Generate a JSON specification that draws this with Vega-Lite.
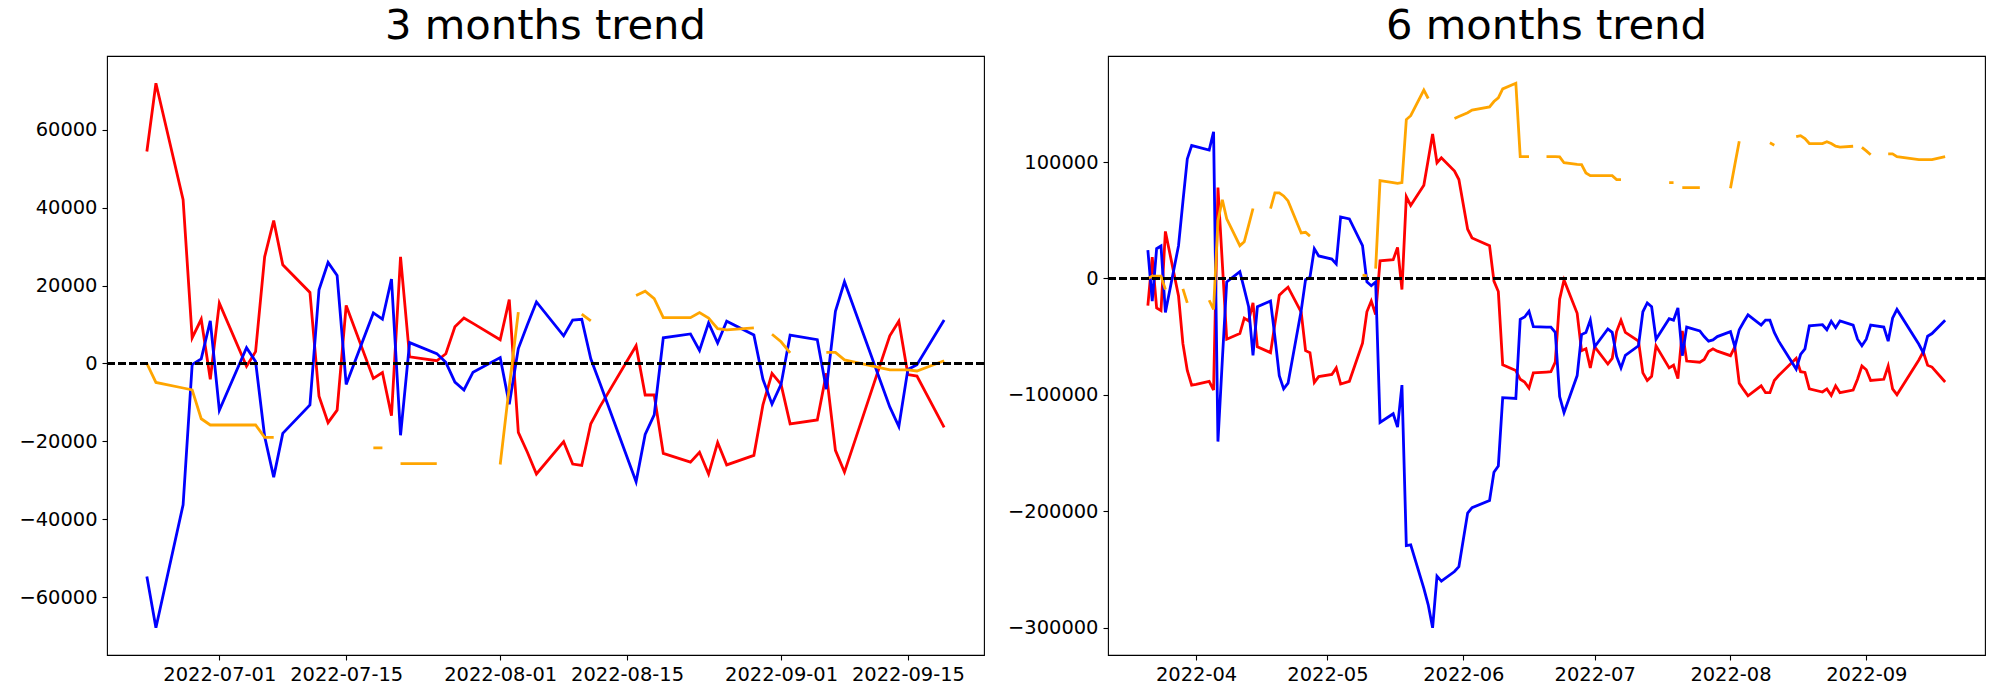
{
 "$schema": "https://vega.github.io/schema/vega-lite/v6.json",
 "padding": {"left": 18, "top": 5, "right": 5, "bottom": 5},
 "background": "white",
 "config": {
  "font": "DejaVu Sans",
  "view": {"stroke": "black", "strokeWidth": 1.1},
  "axis": {"grid": false, "domain": false, "tickColor": "black", "tickSize": 5, "tickWidth": 1.1, "labelFont": "DejaVu Sans", "labelFontSize": 19.44, "labelColor": "black", "labelPadding": 5},
  "title": {"font": "DejaVu Sans", "fontSize": 41.67, "fontWeight": "normal", "color": "black", "anchor": "middle", "frame": "group", "offset": 8, "baseline": "alphabetic"},
  "concat": {"spacing": 20}
 },
 "datasets": {
  "m3": [
   {"date": "2022-06-23", "A": 54450, "B": -54750, "C": 0},
   {"date": "2022-06-24", "A": 72000, "B": -67900, "C": -4870},
   {"date": "2022-06-27", "A": 42100, "B": -36300, "C": -6300},
   {"date": "2022-06-28", "A": 6600, "B": -300, "C": -6800},
   {"date": "2022-06-29", "A": 11360, "B": 1200, "C": -14200},
   {"date": "2022-06-30", "A": -4060, "B": 10950, "C": -15800},
   {"date": "2022-07-01", "A": 15500, "B": -12000, "C": -15800},
   {"date": "2022-07-04", "A": -700, "B": 4060, "C": -15800},
   {"date": "2022-07-05", "A": 3040, "B": 500, "C": -15800},
   {"date": "2022-07-06", "A": 27400, "B": -18760, "C": -19000},
   {"date": "2022-07-07", "A": 36700, "B": -29200, "C": -19000},
   {"date": "2022-07-08", "A": 25350, "B": -17950, "C": null},
   {"date": "2022-07-11", "A": 18250, "B": -10650, "C": null},
   {"date": "2022-07-12", "A": -8400, "B": 18960, "C": null},
   {"date": "2022-07-13", "A": -15200, "B": 25960, "C": null},
   {"date": "2022-07-14", "A": -12000, "B": 22600, "C": null},
   {"date": "2022-07-15", "A": 14900, "B": -5370, "C": null},
   {"date": "2022-07-18", "A": -3850, "B": 12980, "C": -21700},
   {"date": "2022-07-19", "A": -2330, "B": 11360, "C": -21700},
   {"date": "2022-07-20", "A": -13400, "B": 21700, "C": null},
   {"date": "2022-07-21", "A": 27400, "B": -18450, "C": -25750},
   {"date": "2022-07-22", "A": 1700, "B": 5370, "C": -25750},
   {"date": "2022-07-25", "A": 700, "B": 2540, "C": -25750},
   {"date": "2022-07-26", "A": 2500, "B": 300, "C": null},
   {"date": "2022-07-27", "A": 9430, "B": -4770, "C": null},
   {"date": "2022-07-28", "A": 11660, "B": -6800, "C": null},
   {"date": "2022-07-29", "A": 10300, "B": -2230, "C": null},
   {"date": "2022-08-01", "A": 6100, "B": 1520, "C": -25950},
   {"date": "2022-08-02", "A": 16400, "B": -10450, "C": -6000},
   {"date": "2022-08-03", "A": -17700, "B": 3850, "C": 13200},
   {"date": "2022-08-04", "A": -22800, "B": 9940, "C": null},
   {"date": "2022-08-05", "A": -28400, "B": 15800, "C": null},
   {"date": "2022-08-08", "A": -20100, "B": 7100, "C": null},
   {"date": "2022-08-09", "A": -25850, "B": 11150, "C": null},
   {"date": "2022-08-10", "A": -26200, "B": 11360, "C": 12700},
   {"date": "2022-08-11", "A": -15500, "B": 1200, "C": 10950},
   {"date": "2022-08-12", "A": -11150, "B": -5000, "C": null},
   {"date": "2022-08-16", "A": 4560, "B": -30400, "C": 17450},
   {"date": "2022-08-17", "A": -8100, "B": -18250, "C": 18560},
   {"date": "2022-08-18", "A": -8100, "B": -13200, "C": 16630},
   {"date": "2022-08-19", "A": -23100, "B": 6600, "C": 11760},
   {"date": "2022-08-22", "A": -25350, "B": 7600, "C": 11760},
   {"date": "2022-08-23", "A": -22800, "B": 3350, "C": 13080},
   {"date": "2022-08-24", "A": -28400, "B": 10450, "C": 11660},
   {"date": "2022-08-25", "A": -20300, "B": 5270, "C": 8920},
   {"date": "2022-08-26", "A": -26050, "B": 10850, "C": 8620},
   {"date": "2022-08-29", "A": -23600, "B": 7300, "C": 9130},
   {"date": "2022-08-30", "A": -10650, "B": -4060, "C": null},
   {"date": "2022-08-31", "A": -2540, "B": -10450, "C": 7500},
   {"date": "2022-09-01", "A": -5370, "B": -5370, "C": 5580},
   {"date": "2022-09-02", "A": -15500, "B": 7300, "C": 2740},
   {"date": "2022-09-05", "A": -14500, "B": 6100, "C": null},
   {"date": "2022-09-06", "A": -2540, "B": -6600, "C": 2840},
   {"date": "2022-09-07", "A": -22300, "B": 13400, "C": 2840},
   {"date": "2022-09-08", "A": -27900, "B": 21000, "C": 910},
   {"date": "2022-09-13", "A": 7100, "B": -11150, "C": -1620},
   {"date": "2022-09-14", "A": 10850, "B": -16200, "C": -1620},
   {"date": "2022-09-15", "A": -2840, "B": -1520, "C": -1620},
   {"date": "2022-09-16", "A": -3250, "B": -300, "C": -1930},
   {"date": "2022-09-19", "A": -16400, "B": 11150, "C": 710}
  ],
  "m6": [
   {"date": "2022-03-21", "A": -23300, "B": 24290, "C": 0},
   {"date": "2022-03-22", "A": 18400, "B": -19360, "C": 2000},
   {"date": "2022-03-23", "A": -25300, "B": 25600, "C": 2000},
   {"date": "2022-03-24", "A": -27600, "B": 27900, "C": 2000},
   {"date": "2022-03-25", "A": 40400, "B": -29200, "C": -9500},
   {"date": "2022-03-28", "A": -15100, "B": 28200, "C": null},
   {"date": "2022-03-29", "A": -56000, "B": 66000, "C": -8900},
   {"date": "2022-03-30", "A": -79000, "B": 102700, "C": -21000},
   {"date": "2022-03-31", "A": -91600, "B": 114200, "C": null},
   {"date": "2022-04-01", "A": -91000, "B": 113200, "C": null},
   {"date": "2022-04-04", "A": -88300, "B": 110300, "C": -18700},
   {"date": "2022-04-05", "A": -95800, "B": 126000, "C": -26600},
   {"date": "2022-04-06", "A": 78100, "B": -140100, "C": 49600},
   {"date": "2022-04-07", "A": 13100, "B": -70000, "C": 67600},
   {"date": "2022-04-08", "A": -52200, "B": -2950, "C": 51200},
   {"date": "2022-04-11", "A": -47300, "B": 5900, "C": 28200},
   {"date": "2022-04-12", "A": -34100, "B": -8860, "C": 31500},
   {"date": "2022-04-13", "A": -36400, "B": -24300, "C": 45600},
   {"date": "2022-04-14", "A": -21000, "B": -66000, "C": 60100},
   {"date": "2022-04-15", "A": -58700, "B": -24300, "C": null},
   {"date": "2022-04-18", "A": -63700, "B": -19360, "C": 60100},
   {"date": "2022-04-19", "A": -39000, "B": -50200, "C": 73500},
   {"date": "2022-04-20", "A": -14400, "B": -83400, "C": 73500},
   {"date": "2022-04-21", "A": -10800, "B": -94800, "C": 70900},
   {"date": "2022-04-22", "A": -7500, "B": -89900, "C": 66600},
   {"date": "2022-04-25", "A": -28900, "B": -27600, "C": 39100},
   {"date": "2022-04-26", "A": -62000, "B": -1000, "C": 39700},
   {"date": "2022-04-27", "A": -63700, "B": 980, "C": 36400},
   {"date": "2022-04-28", "A": -89300, "B": 25600, "C": null},
   {"date": "2022-04-29", "A": -84300, "B": 19360, "C": null},
   {"date": "2022-05-02", "A": -82400, "B": 16700, "C": null},
   {"date": "2022-05-03", "A": -76800, "B": 12470, "C": null},
   {"date": "2022-05-04", "A": -90600, "B": 52840, "C": null},
   {"date": "2022-05-06", "A": -88300, "B": 51200, "C": null},
   {"date": "2022-05-09", "A": -55500, "B": 28200, "C": 2950},
   {"date": "2022-05-10", "A": -28600, "B": -2950, "C": 2300},
   {"date": "2022-05-11", "A": -19400, "B": -6240, "C": null},
   {"date": "2022-05-12", "A": -30900, "B": -2950, "C": 8500},
   {"date": "2022-05-13", "A": 15100, "B": -123700, "C": 84000},
   {"date": "2022-05-16", "A": 16100, "B": -116200, "C": 82400},
   {"date": "2022-05-17", "A": 26600, "B": -127700, "C": 81700},
   {"date": "2022-05-18", "A": -9500, "B": -91600, "C": 82400},
   {"date": "2022-05-19", "A": 70200, "B": -229400, "C": 136500},
   {"date": "2022-05-20", "A": 62700, "B": -228800, "C": 139800},
   {"date": "2022-05-23", "A": 80100, "B": -266200, "C": 161800},
   {"date": "2022-05-24", "A": 102000, "B": -280300, "C": 154600},
   {"date": "2022-05-25", "A": 124100, "B": -300000, "C": null},
   {"date": "2022-05-26", "A": 99400, "B": -255700, "C": null},
   {"date": "2022-05-27", "A": 103700, "B": -259900, "C": null},
   {"date": "2022-05-30", "A": 92200, "B": -251700, "C": 137500},
   {"date": "2022-05-31", "A": 85000, "B": -247500, "C": 139200},
   {"date": "2022-06-02", "A": 42300, "B": -201500, "C": 142400},
   {"date": "2022-06-03", "A": 34800, "B": -196800, "C": 144700},
   {"date": "2022-06-07", "A": 28200, "B": -190700, "C": 147400},
   {"date": "2022-06-08", "A": -2300, "B": -166400, "C": 152000},
   {"date": "2022-06-09", "A": -11200, "B": -161100, "C": 155200},
   {"date": "2022-06-10", "A": -74200, "B": -102400, "C": 162800},
   {"date": "2022-06-13", "A": -79100, "B": -103100, "C": 167700},
   {"date": "2022-06-14", "A": -86600, "B": -35100, "C": 104700},
   {"date": "2022-06-15", "A": -88900, "B": -33100, "C": 104700},
   {"date": "2022-06-16", "A": -94200, "B": -28200, "C": 104700},
   {"date": "2022-06-17", "A": -81100, "B": -41400, "C": null},
   {"date": "2022-06-20", "A": -80400, "B": -41700, "C": 104700},
   {"date": "2022-06-21", "A": -80100, "B": -41700, "C": 104700},
   {"date": "2022-06-22", "A": -71900, "B": -46300, "C": 104700},
   {"date": "2022-06-23", "A": -17700, "B": -101400, "C": 104400},
   {"date": "2022-06-24", "A": -1300, "B": -115200, "C": 99400},
   {"date": "2022-06-27", "A": -29900, "B": -83400, "C": 98100},
   {"date": "2022-06-28", "A": -62000, "B": -48200, "C": 97800},
   {"date": "2022-06-29", "A": -60400, "B": -46300, "C": 90600},
   {"date": "2022-06-30", "A": -76800, "B": -35800, "C": 88300},
   {"date": "2022-07-01", "A": -58700, "B": -58700, "C": 88300},
   {"date": "2022-07-04", "A": -73500, "B": -43300, "C": 88300},
   {"date": "2022-07-05", "A": -68600, "B": -46300, "C": 88300},
   {"date": "2022-07-06", "A": -45600, "B": -67000, "C": 85000},
   {"date": "2022-07-07", "A": -35800, "B": -76800, "C": 85000},
   {"date": "2022-07-08", "A": -46300, "B": -66000, "C": null},
   {"date": "2022-07-11", "A": -53800, "B": -57800, "C": null},
   {"date": "2022-07-12", "A": -81100, "B": -28600, "C": null},
   {"date": "2022-07-13", "A": -87600, "B": -21000, "C": null},
   {"date": "2022-07-14", "A": -84000, "B": -24300, "C": null},
   {"date": "2022-07-15", "A": -57800, "B": -52200, "C": null},
   {"date": "2022-07-18", "A": -76800, "B": -34500, "C": 82400},
   {"date": "2022-07-19", "A": -74500, "B": -35800, "C": 82400},
   {"date": "2022-07-20", "A": -86000, "B": -25300, "C": null},
   {"date": "2022-07-21", "A": -45000, "B": -66300, "C": 78100},
   {"date": "2022-07-22", "A": -70900, "B": -41700, "C": 78100},
   {"date": "2022-07-25", "A": -71900, "B": -45000, "C": 78100},
   {"date": "2022-07-26", "A": -69600, "B": -49900, "C": null},
   {"date": "2022-07-27", "A": -62700, "B": -53800, "C": null},
   {"date": "2022-07-28", "A": -60400, "B": -52800, "C": null},
   {"date": "2022-07-29", "A": -62400, "B": -49900, "C": null},
   {"date": "2022-08-01", "A": -66300, "B": -45600, "C": 77500},
   {"date": "2022-08-02", "A": -58700, "B": -58700, "C": 98000},
   {"date": "2022-08-03", "A": -89900, "B": -44000, "C": 117800},
   {"date": "2022-08-04", "A": -95500, "B": -37400, "C": null},
   {"date": "2022-08-05", "A": -100800, "B": -31200, "C": null},
   {"date": "2022-08-08", "A": -92200, "B": -40000, "C": null},
   {"date": "2022-08-09", "A": -98100, "B": -35800, "C": null},
   {"date": "2022-08-10", "A": -98100, "B": -35800, "C": 116500},
   {"date": "2022-08-11", "A": -87600, "B": -46300, "C": 114500},
   {"date": "2022-08-12", "A": -83400, "B": -53800, "C": null},
   {"date": "2022-08-16", "A": -68600, "B": -77800, "C": 121800},
   {"date": "2022-08-17", "A": -80100, "B": -65300, "C": 122700},
   {"date": "2022-08-18", "A": -80700, "B": -60400, "C": 120100},
   {"date": "2022-08-19", "A": -94800, "B": -40700, "C": 115900},
   {"date": "2022-08-22", "A": -97500, "B": -39700, "C": 115900},
   {"date": "2022-08-23", "A": -94800, "B": -44000, "C": 117500},
   {"date": "2022-08-24", "A": -100400, "B": -36800, "C": 115900},
   {"date": "2022-08-25", "A": -92200, "B": -42300, "C": 113600},
   {"date": "2022-08-26", "A": -98100, "B": -36400, "C": 112900},
   {"date": "2022-08-29", "A": -95800, "B": -40000, "C": 113600},
   {"date": "2022-08-30", "A": -86600, "B": -52200, "C": null},
   {"date": "2022-08-31", "A": -75200, "B": -57800, "C": 112600},
   {"date": "2022-09-01", "A": -78400, "B": -52200, "C": 109600},
   {"date": "2022-09-02", "A": -87600, "B": -40000, "C": 106300},
   {"date": "2022-09-05", "A": -86600, "B": -41700, "C": null},
   {"date": "2022-09-06", "A": -75200, "B": -53800, "C": 107000},
   {"date": "2022-09-07", "A": -94800, "B": -34100, "C": 107000},
   {"date": "2022-09-08", "A": -99800, "B": -26600, "C": 104700},
   {"date": "2022-09-13", "A": -70000, "B": -56500, "C": 102100},
   {"date": "2022-09-14", "A": -63000, "B": -63700, "C": 102100},
   {"date": "2022-09-15", "A": -74500, "B": -49600, "C": 102100},
   {"date": "2022-09-16", "A": -76100, "B": -47300, "C": 102100},
   {"date": "2022-09-19", "A": -88900, "B": -35800, "C": 104700}
  ]
 },
 "hconcat": [
  {
   "title": "3 months trend",
   "width": 877,
   "height": 599,
   "data": {"name": "m3"},
   "encoding": {
    "x": {"field": "date", "type": "temporal", "title": null,
     "scale": {"type": "utc", "domain": [{"year": 2022, "month": 6, "date": 18, "hours": 14, "minutes": 24, "utc": true}, {"year": 2022, "month": 9, "date": 23, "hours": 9, "minutes": 36, "utc": true}]},
     "axis": {"format": "%Y-%m-%d", "labelOverlap": false, "labelFlush": false,
      "values": [{"year": 2022, "month": 7, "date": 1, "utc": true}, {"year": 2022, "month": 7, "date": 15, "utc": true}, {"year": 2022, "month": 8, "date": 1, "utc": true}, {"year": 2022, "month": 8, "date": 15, "utc": true}, {"year": 2022, "month": 9, "date": 1, "utc": true}, {"year": 2022, "month": 9, "date": 15, "utc": true}]}}
   },
   "layer": [
    {"mark": {"type": "line", "color": "#ff0000", "strokeWidth": 2.8, "invalid": "break-paths-filter-domains"},
     "encoding": {"y": {"field": "A", "type": "quantitative", "title": null, "scale": {"domain": [-74900, 79000], "nice": false, "zero": false}, "axis": {"values": [-60000, -40000, -20000, 0, 20000, 40000, 60000], "format": "d"}}}},
    {"mark": {"type": "line", "color": "#0000ff", "strokeWidth": 2.8, "invalid": "break-paths-filter-domains"},
     "encoding": {"y": {"field": "B", "type": "quantitative", "title": null}}},
    {"mark": {"type": "line", "color": "#ffa500", "strokeWidth": 2.8, "invalid": "break-paths-filter-domains"},
     "encoding": {"y": {"field": "C", "type": "quantitative", "title": null}}},
    {"mark": {"type": "rule", "color": "black", "strokeWidth": 2.1, "strokeDash": [7.7, 3.3]},
     "encoding": {"y": {"datum": 0, "type": "quantitative"}, "x": null}}
   ]
  },
  {
   "title": "6 months trend",
   "width": 877,
   "height": 599,
   "data": {"name": "m6"},
   "encoding": {
    "x": {"field": "date", "type": "temporal", "title": null,
     "scale": {"type": "utc", "domain": [{"year": 2022, "month": 3, "date": 11, "hours": 21, "minutes": 36, "utc": true}, {"year": 2022, "month": 9, "date": 28, "hours": 2, "minutes": 24, "utc": true}]},
     "axis": {"format": "%Y-%m", "labelOverlap": false, "labelFlush": false,
      "values": [{"year": 2022, "month": 4, "date": 1, "utc": true}, {"year": 2022, "month": 5, "date": 1, "utc": true}, {"year": 2022, "month": 6, "date": 1, "utc": true}, {"year": 2022, "month": 7, "date": 1, "utc": true}, {"year": 2022, "month": 8, "date": 1, "utc": true}, {"year": 2022, "month": 9, "date": 1, "utc": true}]}}
   },
   "layer": [
    {"mark": {"type": "line", "color": "#ff0000", "strokeWidth": 2.8, "invalid": "break-paths-filter-domains"},
     "encoding": {"y": {"field": "A", "type": "quantitative", "title": null, "scale": {"domain": [-323400, 191100], "nice": false, "zero": false}, "axis": {"values": [-300000, -200000, -100000, 0, 100000], "format": "d"}}}},
    {"mark": {"type": "line", "color": "#0000ff", "strokeWidth": 2.8, "invalid": "break-paths-filter-domains"},
     "encoding": {"y": {"field": "B", "type": "quantitative", "title": null}}},
    {"mark": {"type": "line", "color": "#ffa500", "strokeWidth": 2.8, "invalid": "break-paths-filter-domains"},
     "encoding": {"y": {"field": "C", "type": "quantitative", "title": null}}},
    {"mark": {"type": "rule", "color": "black", "strokeWidth": 2.1, "strokeDash": [7.7, 3.3]},
     "encoding": {"y": {"datum": 0, "type": "quantitative"}, "x": null}}
   ]
  }
 ]
}
